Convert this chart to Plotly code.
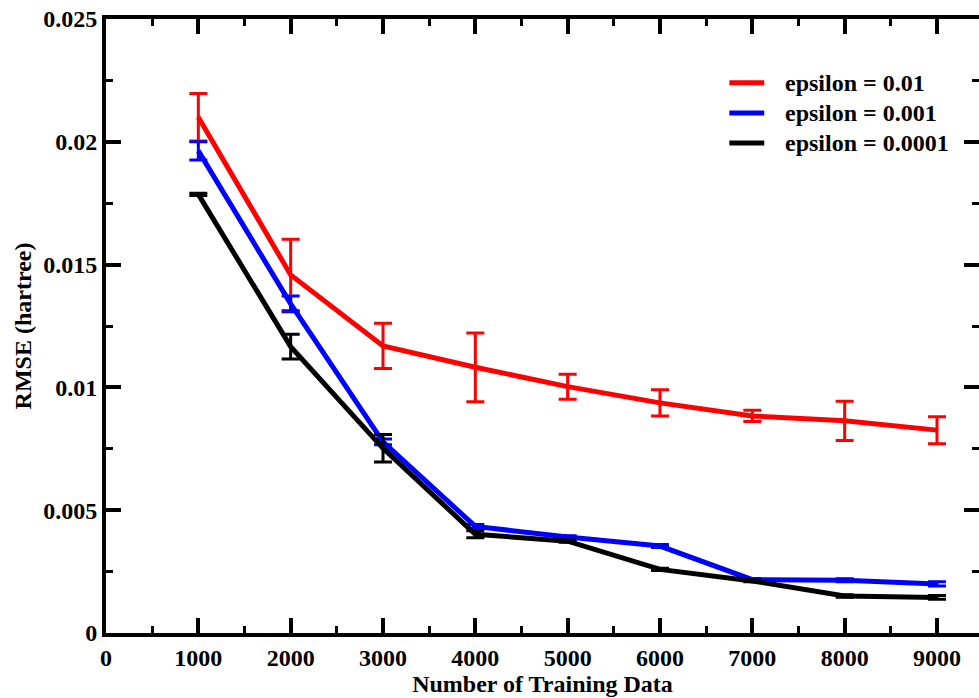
import plotly.graph_objects as go

train_n = [1000, 2000, 3000, 4000, 5000, 6000, 7000, 8000, 9000]

eps_labels = ["epsilon = 0.01", "epsilon = 0.001", "epsilon = 0.0001"]

rmse_e2 = [0.02100, 0.01458, 0.01169, 0.01082, 0.01003, 0.00937, 0.00884, 0.00864, 0.00826]
err_e2 = [0.00097, 0.00145, 0.00092, 0.00140, 0.00051, 0.00053, 0.00023, 0.00080, 0.00055]

rmse_e3 = [0.01963, 0.01340, 0.00778, 0.00434, 0.00391, 0.00354, 0.00217, 0.00215, 0.00200]
err_e3 = [0.00037, 0.00032, 0.00012, 0.00008, 0.00005, 0.00006, 0.00005, 0.00006, 0.00009]

rmse_e4 = [0.01786, 0.01166, 0.00752, 0.00402, 0.00374, 0.00259, 0.00212, 0.00151, 0.00145]
err_e4 = [0.00005, 0.00050, 0.00056, 0.00014, 0.00005, 0.00005, 0.00003, 0.00005, 0.00008]

colors = ["#ff0000", "#0000ff", "#000000"]

y_tickvals = [0, 0.005, 0.01, 0.015, 0.02, 0.025]
y_ticktext = ["0", "0.005", "0.01", "0.015", "0.02", "0.025"]
x_tickvals = [0, 1000, 2000, 3000, 4000, 5000, 6000, 7000, 8000, 9000]
x_ticktext = [str(v) for v in x_tickvals]

FONT = "Liberation Serif"

fig = go.Figure()
series = [(rmse_e2, err_e2), (rmse_e3, err_e3), (rmse_e4, err_e4)]
for (vals, errs), col, name in zip(series, colors, eps_labels):
    fig.add_trace(go.Scatter(
        x=train_n, y=vals, mode="lines", name=name, showlegend=False,
        line=dict(color=col, width=5),
        error_y=dict(type="data", array=errs, visible=True, color=col,
                     thickness=3, width=9),
    ))
# empty trace on the right-hand axis so its ticks are drawn
fig.add_trace(go.Scatter(x=[None], y=[None], yaxis="y2", showlegend=False, hoverinfo="skip"))

# legend drawn as line samples + text in paper coordinates (compact row spacing)
leg_x0, leg_x1, leg_tx = 0.714, 0.754, 0.775
leg_y = [0.896, 0.847, 0.798]
for col, name, yy in zip(colors, eps_labels, leg_y):
    fig.add_shape(type="line", xref="paper", yref="paper",
                  x0=leg_x0, x1=leg_x1, y0=yy, y1=yy,
                  line=dict(color=col, width=5))
    fig.add_annotation(xref="paper", yref="paper", x=leg_tx, y=yy,
                       xanchor="left", yanchor="middle", showarrow=False,
                       text=name,
                       font=dict(family=FONT, size=24, color="black", weight="bold"))

tickfont = dict(family=FONT, size=24, color="black", weight="bold")
minor_y = dict(ticks="inside", ticklen=7, tickwidth=3, tickcolor="black", dtick=0.0025, tick0=0, showgrid=False)

fig.update_layout(
    width=979, height=698,
    margin=dict(l=106, r=0, t=19, b=65),
    plot_bgcolor="white", paper_bgcolor="white",
    showlegend=False,
    font=dict(family=FONT, color="black", weight="bold"),
    xaxis=dict(
        range=[0, 9455], tickvals=x_tickvals, ticktext=x_ticktext,
        showline=True, linecolor="black", linewidth=4, mirror="ticks",
        ticks="inside", ticklen=15, tickwidth=4, tickcolor="black",
        showgrid=False, zeroline=False, tickfont=tickfont,
        minor=dict(ticks="inside", ticklen=7, tickwidth=3, tickcolor="black", dtick=500, tick0=0, showgrid=False),
        title=dict(text="Number of Training Data", standoff=2,
                   font=dict(family=FONT, size=24, color="black", weight="bold")),
    ),
    yaxis=dict(
        range=[0, 0.025], tickvals=y_tickvals, ticktext=y_ticktext,
        showline=True, linecolor="black", linewidth=4, mirror=False,
        ticks="inside", ticklen=15, tickwidth=4, tickcolor="black",
        showgrid=False, zeroline=False, tickfont=tickfont,
        minor=minor_y,
        title=dict(text="RMSE (hartree)", standoff=6,
                   font=dict(family=FONT, size=24, color="black", weight="bold")),
    ),
    yaxis2=dict(
        overlaying="y", side="right", anchor="x",
        range=[0, 0.025], tickvals=y_tickvals, showticklabels=False,
        showline=False, ticks="inside", ticklen=15, tickwidth=4, tickcolor="black",
        showgrid=False, zeroline=False, minor=minor_y,
    ),
)

fig.write_html("out.html")
